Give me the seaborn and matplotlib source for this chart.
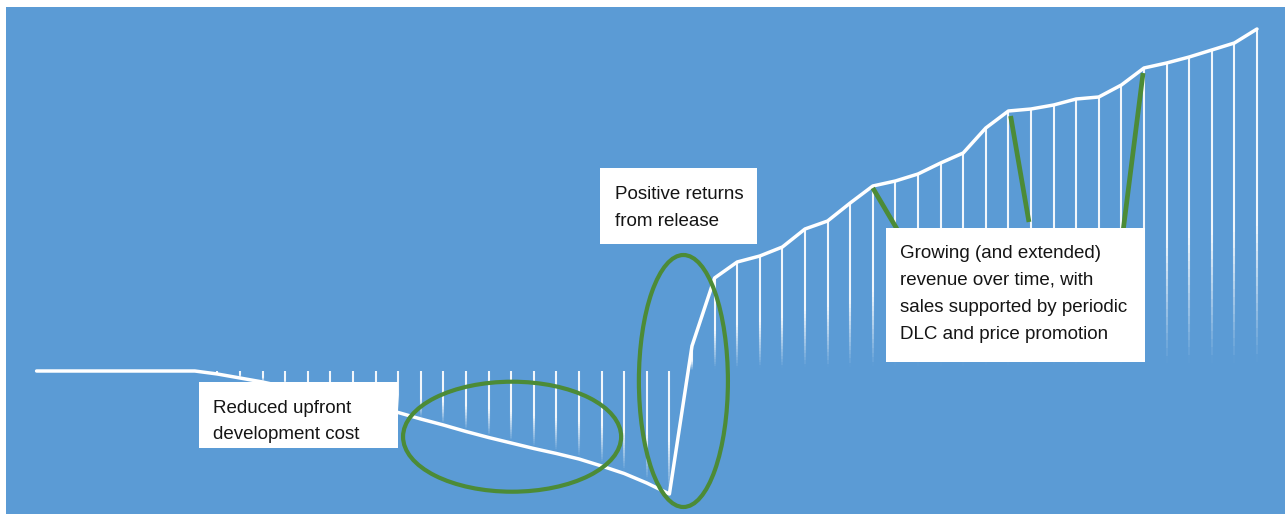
import numpy as np
import matplotlib
matplotlib.use("Agg")
import matplotlib.pyplot as plt
import seaborn as sns
from matplotlib.collections import LineCollection
from matplotlib.patches import Ellipse, Rectangle
from matplotlib.transforms import Affine2D

# Cumulative net position of a game project per period (arbitrary units)
periods = list(range(55))
net_position = [0, 0, 0, 0, 0, 0, 0, 0,
                -3, -7, -11, -16, -21, -26, -31, -36, -41.5, -48, -54, -60.5,
                -66.5, -72, -77.5, -82.5, -88, -95, -102.5, -112, -123,
                25, 93, 109, 115, 124, 142, 150, 168, 185, 190, 197, 208, 218,
                243, 260, 262, 266, 272, 274, 286, 303, 308, 314, 321, 328, 342]

note_dev = ["Reduced upfront", "development cost"]
note_release = ["Positive returns", "from release"]
note_tail = ["Growing (and extended)", "revenue over time, with",
             "sales supported by periodic", "DLC and price promotion"]

BLUE = "#5B9BD5"
GREEN = "#4C8B37"
W, H = 1285, 514

sns.set_theme(style="white")
plt.rcParams["font.family"] = ["Liberation Sans", "DejaVu Sans"]

fig = plt.figure(figsize=(W / 100, H / 100), dpi=100, facecolor="white")
ax = fig.add_axes([6 / W, 0, (W - 6) / W, (H - 7) / H])
ax.set_facecolor(BLUE)
for s in ax.spines.values():
    s.set_visible(False)
ax.set_xticks([])
ax.set_yticks([])
ax.set_xlim(-1.354, 55.24)
ax.set_ylim(-143, 364)

# pixel-space transform (origin top-left) for the callout boxes
px = Affine2D().scale(1 / W, -1 / H).translate(0, 1) + fig.transFigure

# drop lines from the curve to zero, fading towards their lower end
segs, cols = [], []
n = 40
for x, v in zip(periods, net_position):
    if v == 0:
        continue
    top, bot = max(v, 0), min(v, 0)
    edges = np.linspace(top, bot, n + 1)
    for k in range(n):
        t = (k + 0.5) / n
        a = np.clip((0.97 - t) / 0.4, 0, 1) * 0.92
        segs.append([(x, edges[k]), (x, edges[k + 1])])
        cols.append((1, 1, 1, a))
ax.add_collection(LineCollection(segs, colors=cols, linewidths=1.5,
                                 capstyle="butt", zorder=2))

sns.lineplot(x=periods, y=net_position, color="white", linewidth=2.5,
             ax=ax, zorder=3)
ax.lines[-1].set_solid_joinstyle("round")
ax.lines[-1].set_solid_capstyle("round")
ax.set_xlabel("")
ax.set_ylabel("")

# highlight rings
ax.add_patch(Ellipse((21.04, -65.7), 9.65, 110, fill=False, ec=GREEN,
                     lw=3, zorder=4))
ax.add_patch(Ellipse((28.62, -10), 3.94, 252, fill=False, ec=GREEN,
                     lw=3, zorder=4))

# leader lines into the revenue callout
for (x0, y0), (x1, y1) in [((37.0, 183), (38.07, 142)),
                           ((43.1, 255), (43.91, 149)),
                           ((48.96, 298), (48.07, 139))]:
    ax.plot([x0, x1], [y0, y1], color=GREEN, lw=3.4, zorder=6,
            solid_capstyle="butt")

# callout boxes with their text
boxes = [
    ((199, 382.3, 199, 65.4), 213, [412.7, 439.3], note_dev),
    ((600, 167.5, 157, 76), 615, [199.3, 226.5], note_release),
    ((886, 227.5, 259, 134), 900.5, [257.7, 284.5, 311.7, 339], note_tail),
]
for (bx, by, bw, bh), tx, baselines, lines in boxes:
    fig.patches.append(Rectangle((bx, by), bw, bh, transform=px,
                                 facecolor="white", edgecolor="none",
                                 zorder=5))
    for yb, line in zip(baselines, lines):
        fig.text(tx, yb, line, transform=px, fontsize=13.5, color="#151515",
                 va="baseline", ha="left", zorder=7)

fig.savefig("out.png", dpi=100, facecolor="white")
